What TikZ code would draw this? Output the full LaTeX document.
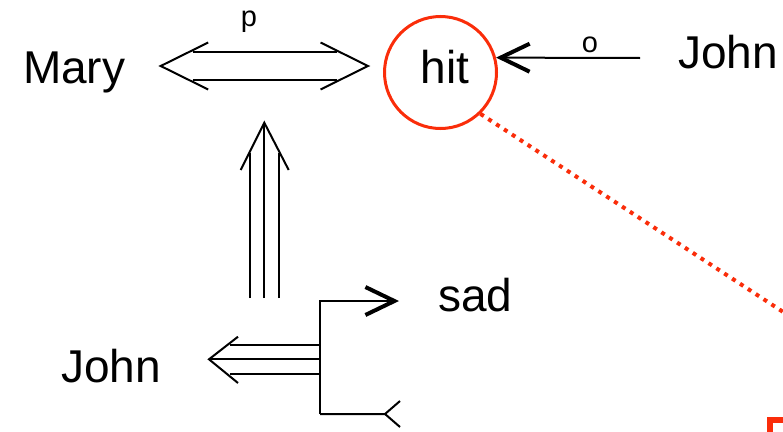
\documentclass[tikz,border=0pt]{standalone}
\usepackage{fontspec}
\setmainfont{Liberation Sans}
\usetikzlibrary{arrows.meta, calc}

\definecolor{hitred}{RGB}{250,45,10}

\tikzset{
    word/.style={inner sep=0pt, anchor=base west, font=\fontsize{46}{50}\selectfont},
    rel/.style={inner sep=0pt, anchor=base, font=\fontsize{29}{32}\selectfont},
    barb/.style={-{Straight Barb[length=29pt, width=28pt, line width=4pt]}}
}

\begin{document}
\begin{tikzpicture}[x=1pt, y=-1pt, line width=2pt]
            \useasboundingbox (0,0) rectangle (783,431);

            % words
            \node[word] (mary) at (22,83.3) {Mary};
            \node[word] (johnA) at (677,68) {John};
            \node[word] (sad) at (437,311.7) {sad};
            \node[word] (johnB) at (60,382.7) {John};
            \node[draw=hitred, line width=3pt, circle, minimum size=112pt, inner sep=0pt] (hit) at (440.5,72.5) {};
            \node[word, anchor=base] (hitword) at (445,83) {hit};
            \node[rel] (p) at (249,26) {p};
            \node[rel] (o) at (590,52.7) {o};

            % ends of the arrows
            \coordinate (pl) at (160.7,66);
            \coordinate (pr) at (368,66);
            \coordinate (ostart) at (640,58);
            \coordinate (ut) at (264.3,122.7);
            \coordinate (ub) at (264.3,298);
            \coordinate (ft) at (320,301);
            \coordinate (fork) at (320,359.3);
            \coordinate (fb) at (320,414);
            \coordinate (sadtip) at (399,301);
            \coordinate (tail) at (385,414);
            \coordinate (lt) at (209,359.3);

            % p: double arrow
            \foreach \d in {-14.3,14} {
                \draw[] (pl) ++(32,\d) -- ++(144,0);
            }
            \draw[] (pl) ++(47.5,-23.5) -- (pl) -- ++(47.5,23.5);
            \draw[] (pr) ++(-47.5,-23.5) -- (pr) -- ++(-47.5,23.5);

            % o
            \draw[barb] (ostart) -- (hit.15);

            % triple arrow up
            \draw[] (ub) -- (ut);
            \foreach \d in {-14.3,15} {
                \draw[] (ub) ++(\d,0) -- ++(0,-145);
            }
            \draw[] (ut) ++(-23.6,47.3) -- (ut) -- ++(24.4,47.3);

            % fork
            \draw[barb] (fb) -- (ft) -- (sadtip);
            \draw[] (fb) -- (tail) ++(15,-13) -- (tail) -- ++(15,13);

            % triple arrow left
            \draw[] (fork) -- (lt);
            \foreach \d in {-14.3,14.7} {
                \draw[] (fork) ++(0,\d) -- ++(-90,0);
            }
            \draw[] (lt) ++(29,-22.6) -- (lt) -- ++(29,23.7);

            % red dotted line and box
            \draw[hitred, line width=4pt, dash pattern=on 4pt off 5.4pt] (hit.-46) -- (800,323);
            \draw[hitred, line width=5.5pt] (770,420) rectangle (900,500);
        \end{tikzpicture}
\end{document}
